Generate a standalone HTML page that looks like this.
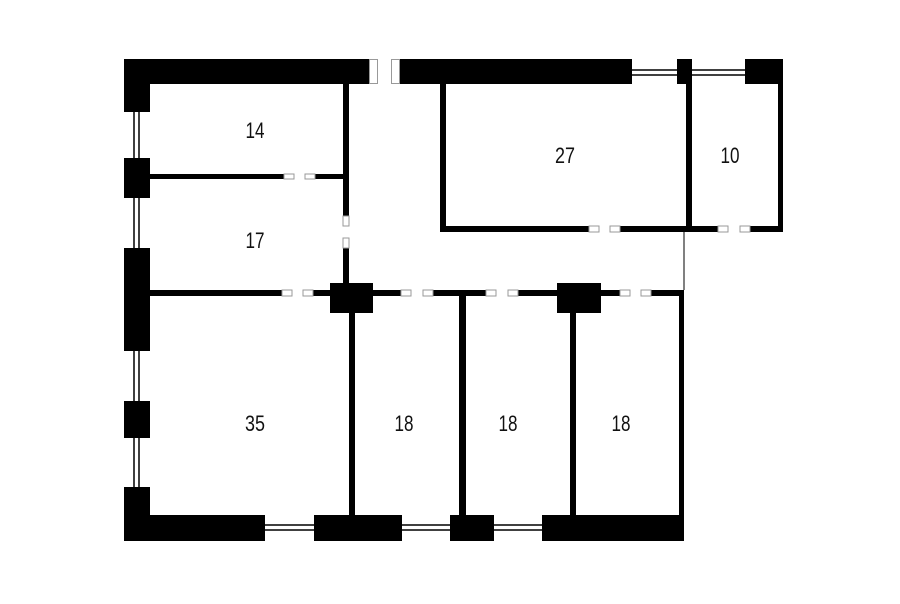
<!DOCTYPE html>
<html><head><meta charset="utf-8"><style>
html,body{margin:0;padding:0;background:#fff;}
svg{display:block}
text{font-family:"Liberation Sans Narrow","Liberation Sans",sans-serif;font-size:22px;fill:#111;text-anchor:middle}
</style></head><body>
<svg width="900" height="604" viewBox="0 0 900 604" xmlns="http://www.w3.org/2000/svg">
<g fill="#000">
<rect x="124" y="59" width="26" height="53"/>
<rect x="150" y="59" width="219" height="25"/>
<rect x="400" y="59" width="232" height="25"/>
<rect x="677" y="59" width="15" height="25"/>
<rect x="745" y="59" width="38" height="25"/>
<rect x="778" y="84" width="5" height="148"/>
<rect x="124" y="158" width="26" height="40"/>
<rect x="124" y="248" width="26" height="103"/>
<rect x="124" y="401" width="26" height="37"/>
<rect x="124" y="487" width="26" height="28"/>
<rect x="124" y="515" width="141" height="26"/>
<rect x="314" y="515" width="88" height="26"/>
<rect x="450" y="515" width="44" height="26"/>
<rect x="542" y="515" width="142" height="26"/>
<rect x="679" y="290" width="5" height="225"/>
<rect x="150" y="290" width="132" height="6"/>
<rect x="313" y="290" width="17" height="6"/>
<rect x="330" y="283" width="43" height="30"/>
<rect x="373" y="290" width="28" height="6"/>
<rect x="433" y="290" width="53" height="6"/>
<rect x="518" y="290" width="39" height="6"/>
<rect x="557" y="283" width="44" height="30"/>
<rect x="601" y="290" width="19" height="6"/>
<rect x="651" y="290" width="33" height="6"/>
<rect x="349" y="313" width="6" height="202"/>
<rect x="459" y="293" width="7" height="222"/>
<rect x="570" y="313" width="6" height="202"/>
<rect x="343" y="84" width="6" height="132"/>
<rect x="343" y="248" width="6" height="35"/>
<rect x="150" y="174" width="134" height="5"/>
<rect x="315" y="174" width="28" height="5"/>
<rect x="440" y="84" width="6" height="148"/>
<rect x="440" y="226" width="149" height="6"/>
<rect x="620" y="226" width="98" height="6"/>
<rect x="750" y="226" width="33" height="6"/>
<rect x="686" y="84" width="6" height="148"/>
<rect x="683.5" y="232" width="1" height="58"/>
</g>
<g stroke="#000" stroke-width="1.5" fill="none">
<line x1="632" y1="70" x2="677" y2="70"/><line x1="632" y1="75" x2="677" y2="75"/>
<line x1="692" y1="70" x2="745" y2="70"/><line x1="692" y1="75" x2="745" y2="75"/>
<line x1="134" y1="112" x2="134" y2="158"/><line x1="139" y1="112" x2="139" y2="158"/>
<line x1="134" y1="198" x2="134" y2="248"/><line x1="139" y1="198" x2="139" y2="248"/>
<line x1="134" y1="351" x2="134" y2="401"/><line x1="139" y1="351" x2="139" y2="401"/>
<line x1="134" y1="438" x2="134" y2="487"/><line x1="139" y1="438" x2="139" y2="487"/>
<line x1="265" y1="525" x2="314" y2="525"/><line x1="265" y1="530" x2="314" y2="530"/>
<line x1="402" y1="525" x2="450" y2="525"/><line x1="402" y1="530" x2="450" y2="530"/>
<line x1="494" y1="525" x2="542" y2="525"/><line x1="494" y1="530" x2="542" y2="530"/>
</g>
<g stroke="#999" stroke-width="1" fill="#fff">
<rect x="369.5" y="59.5" width="8" height="24"/><rect x="391.5" y="59.5" width="8" height="24"/>
<rect x="284" y="174" width="10" height="5"/><rect x="305" y="174" width="10" height="5"/>
<rect x="343" y="216" width="6" height="10"/><rect x="343" y="238" width="6" height="10"/>
<rect x="282" y="290" width="10" height="6"/><rect x="303" y="290" width="10" height="6"/>
<rect x="401" y="290" width="10" height="6"/><rect x="423" y="290" width="10" height="6"/>
<rect x="486" y="290" width="10" height="6"/><rect x="508" y="290" width="10" height="6"/>
<rect x="620" y="290" width="10" height="6"/><rect x="641" y="290" width="10" height="6"/>
<rect x="589" y="226" width="10" height="6"/><rect x="610" y="226" width="10" height="6"/>
<rect x="718" y="226" width="10" height="6"/><rect x="740" y="226" width="10" height="6"/>
</g>
<text x="255" y="138" textLength="19" lengthAdjust="spacingAndGlyphs">14</text>
<text x="255" y="248" textLength="19" lengthAdjust="spacingAndGlyphs">17</text>
<text x="565" y="163" textLength="20" lengthAdjust="spacingAndGlyphs">27</text>
<text x="730" y="163" textLength="19" lengthAdjust="spacingAndGlyphs">10</text>
<text x="255" y="431" textLength="20" lengthAdjust="spacingAndGlyphs">35</text>
<text x="404" y="431" textLength="19" lengthAdjust="spacingAndGlyphs">18</text>
<text x="508" y="431" textLength="19" lengthAdjust="spacingAndGlyphs">18</text>
<text x="621" y="431" textLength="19" lengthAdjust="spacingAndGlyphs">18</text>
</svg>
</body></html>
